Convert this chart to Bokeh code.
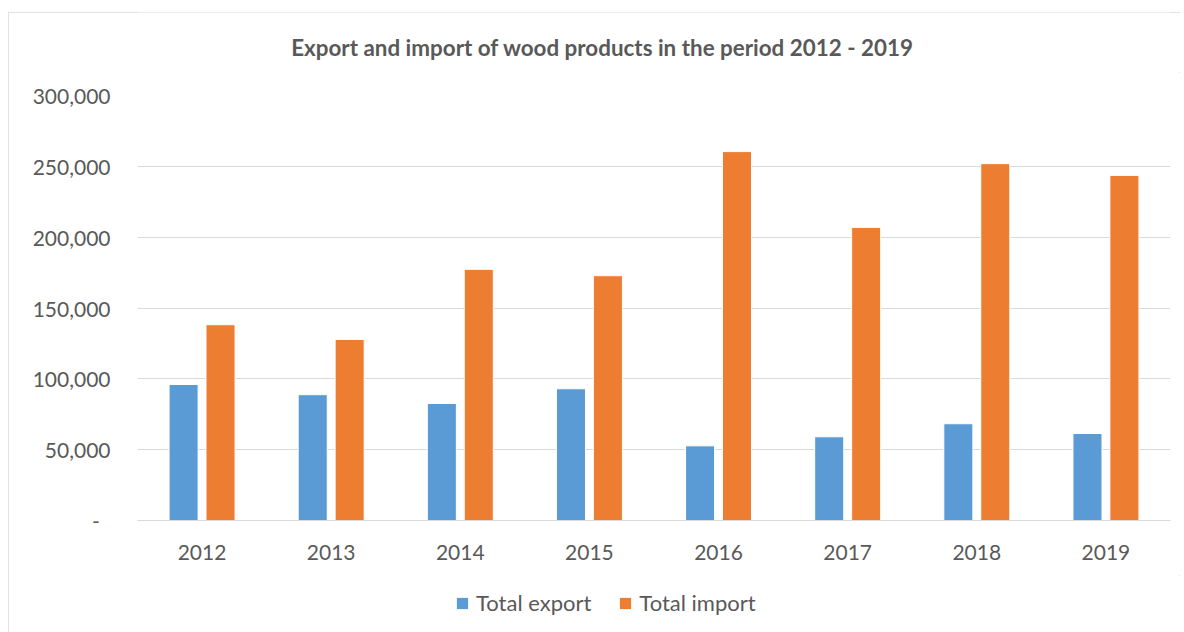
from bokeh.plotting import figure
from bokeh.layouts import column
from bokeh.models import FactorRange, Range1d, FixedTicker, Legend, LegendItem, Label
from bokeh.transform import dodge
from bokeh.embed import file_html
from bokeh.resources import INLINE

years = ["2012", "2013", "2014", "2015", "2016", "2017", "2018", "2019"]
total_export = [96000, 88800, 82600, 93000, 52700, 59100, 68300, 61400]
total_import = [138200, 127800, 177300, 172800, 260400, 206900, 251900, 243600]
y_ticks = [0, 50000, 100000, 150000, 200000, 250000, 300000]
y_tick_labels = ["-\u00a0\u00a0", "50,000", "100,000", "150,000", "200,000", "250,000", "300,000"]
series_names = ["Total export", "Total import"]
series_colors = ["#5B9BD5", "#ED7D31"]
title_text = "Export and import of wood products in the period 2012 - 2019"

FONT = "Lato"
GREY = "#595959"


def strip(height):
    f = figure(width=1172, height=height, x_range=Range1d(0, 1), y_range=Range1d(0, 1),
               output_backend="svg", toolbar_location=None,
               min_border_left=0, min_border_right=0, min_border_top=0, min_border_bottom=0)
    f.axis.visible = False
    f.grid.grid_line_color = None
    f.outline_line_color = None
    f.border_fill_color = "white"
    return f


# title strip
t = strip(60)
t.add_layout(Label(x=465, y=25, x_units="screen", y_units="screen", text=title_text,
                   text_font=FONT, text_font_style="bold", text_font_size="22.4px",
                   text_color=GREY, text_align="center", text_baseline="middle"))

# main chart
p = figure(
    width=1172, height=503,
    x_range=FactorRange(*years, range_padding=0),
    y_range=Range1d(0, 300000),
    output_backend="svg", toolbar_location=None,
    min_border_left=129, min_border_right=10, min_border_top=23, min_border_bottom=55,
)
p.outline_line_color = None
p.background_fill_color = "white"
p.border_fill_color = "white"

src = dict(years=years, exp=total_export, imp=total_import)
p.vbar(x=dodge("years", -0.143, range=p.x_range), top="exp", width=0.225, source=src,
       fill_color=series_colors[0], line_color="white", line_width=1)
p.vbar(x=dodge("years", 0.143, range=p.x_range), top="imp", width=0.225, source=src,
       fill_color=series_colors[1], line_color="white", line_width=1)

p.yaxis.ticker = FixedTicker(ticks=y_ticks)
p.yaxis.major_label_overrides = {t_: l for t_, l in zip(y_ticks, y_tick_labels)}
for ax in (p.xaxis[0], p.yaxis[0]):
    ax.major_tick_line_color = None
    ax.minor_tick_line_color = None
    ax.major_label_text_font = FONT
    ax.major_label_text_font_size = "21px"
    ax.major_label_text_color = GREY
p.yaxis.axis_line_color = None
p.yaxis.major_label_standoff = 21
p.xaxis.axis_line_color = "#d9d9d9"
p.xaxis.major_label_standoff = 18

p.xgrid.grid_line_color = None
p.ygrid.grid_line_color = "#d9d9d9"
p.ygrid.grid_line_width = 1

# legend strip below the chart (legend-only renderers lie outside its visible range)
q = strip(57)
items = []
for name, col in zip(series_names, series_colors):
    r = q.vbar(x=[-5], top=[0], width=0.1, fill_color=col, line_color=None)
    items.append(LegendItem(label=name, renderers=[r]))
legend = Legend(items=items, orientation="horizontal", location=(318, 16),
                label_text_font=FONT, label_text_font_size="22px", label_text_color=GREY,
                glyph_width=14, glyph_height=14, label_standoff=7, spacing=27,
                padding=0, margin=0, border_line_color=None, background_fill_alpha=0)
q.add_layout(legend, "center")

layout = column(t, p, q, spacing=0, margin=(12, 0, 0, 8),
                styles={"outline": "1px solid #d9d9d9", "outline-offset": "-1px"})

open("out.html", "w").write(file_html(layout, INLINE))
